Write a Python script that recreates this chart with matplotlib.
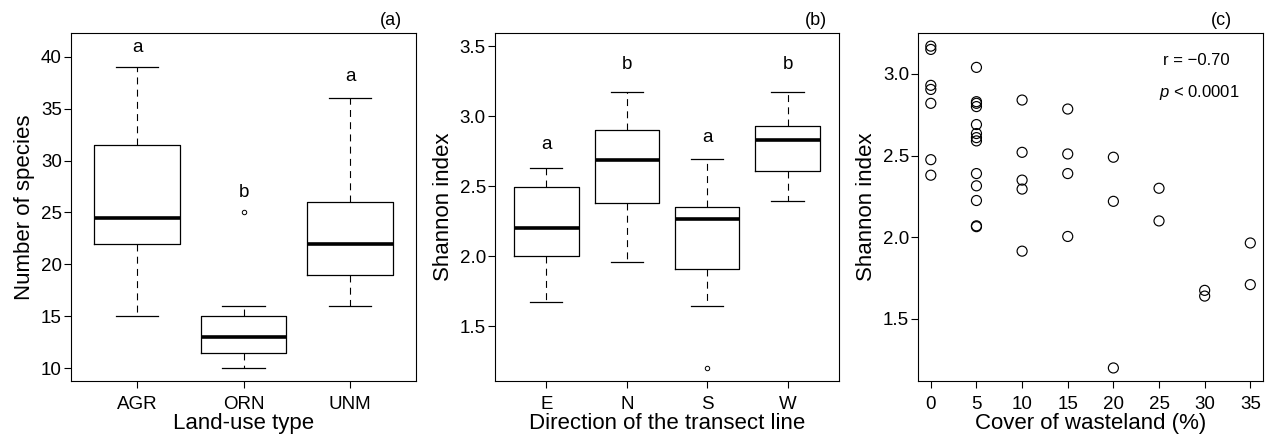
import matplotlib
matplotlib.use("Agg")
import matplotlib.pyplot as plt

plt.rcParams['font.family'] = ['Liberation Sans', 'DejaVu Sans']
plt.rcParams['mathtext.fontset'] = 'custom'
plt.rcParams['mathtext.rm'] = 'Liberation Sans'
plt.rcParams['mathtext.it'] = 'Liberation Sans:italic'
plt.rcParams['lines.scale_dashes'] = False

# (a) number of species by land-use type
landuse = ["AGR", "ORN", "UNM"]
a_whislo = [15, 10, 16]
a_q1 = [22, 11.5, 19]
a_med = [24.5, 13, 22]
a_q3 = [31.5, 15, 26]
a_whishi = [39, 16, 36]
a_fliers = [[], [25], []]
a_letters = ["a", "b", "a"]
a_letter_y = [40.9, 26.9, 38.1]

# (b) Shannon index by transect direction
direction = ["E", "N", "S", "W"]
b_whislo = [1.67, 1.96, 1.64, 2.39]
b_q1 = [2.00, 2.38, 1.91, 2.61]
b_med = [2.20, 2.685, 2.265, 2.83]
b_q3 = [2.49, 2.90, 2.35, 2.93]
b_whishi = [2.63, 3.17, 2.69, 3.17]
b_fliers = [[], [], [1.20], []]
b_letters = ["a", "b", "a", "b"]
b_letter_y = [2.80, 3.37, 2.85, 3.37]

# (c) Shannon index vs cover of wasteland
cover = [0, 0, 0, 0, 0, 0, 0,
         5, 5, 5, 5, 5, 5, 5, 5, 5, 5, 5, 5, 5,
         10, 10, 10, 10, 10,
         15, 15, 15, 15,
         20, 20, 20,
         25, 25,
         30, 30,
         35, 35]
shannon = [3.17, 3.15, 2.93, 2.905, 2.82, 2.475, 2.38,
           3.04, 2.83, 2.82, 2.80, 2.69, 2.635, 2.61, 2.59, 2.39, 2.315, 2.225, 2.07, 2.065,
           2.84, 2.52, 2.35, 2.295, 1.915,
           2.785, 2.51, 2.39, 2.005,
           2.49, 2.22, 1.20,
           2.30, 2.10,
           1.675, 1.64,
           1.965, 1.71]


def make_stats(labels, lo, q1, med, q3, hi, fl):
    out = []
    for i in range(len(labels)):
        out.append(dict(label=labels[i], whislo=lo[i], q1=q1[i], med=med[i],
                        q3=q3[i], whishi=hi[i], fliers=fl[i]))
    return out


def r_box(ax, stats):
    ax.bxp(stats, positions=range(1, len(stats) + 1), widths=0.8, patch_artist=False,
           boxprops=dict(color='black', linewidth=0.9),
           medianprops=dict(color='black', linewidth=2.6, solid_capstyle='butt'),
           whiskerprops=dict(color='black', linewidth=0.8, linestyle=(0, (5, 3.8))),
           capprops=dict(color='black', linewidth=0.9),
           capwidths=0.4,
           flierprops=dict(marker='o', markersize=3.2, markerfacecolor='none',
                           markeredgecolor='black', markeredgewidth=0.7))


def style(ax):
    for s in ax.spines.values():
        s.set_linewidth(0.8)
    ax.tick_params(axis='both', length=5, width=0.8, labelsize=13.5, color='black')
    ax.tick_params(axis='x', pad=5.5)
    ax.tick_params(axis='y', pad=1.5)


fig = plt.figure(figsize=(12.77, 4.41), dpi=100)

ax1 = fig.add_axes([0.0556, 0.136, 0.2702, 0.789])
r_box(ax1, make_stats(landuse, a_whislo, a_q1, a_med, a_q3, a_whishi, a_fliers))
ax1.set_xlim(0.38, 3.62)
ax1.set_ylim(8.75, 42.3)
ax1.set_yticks([10, 15, 20, 25, 30, 35, 40])
for i, t in enumerate(a_letters):
    ax1.text(i + 1, a_letter_y[i], t, ha='center', va='center', fontsize=13.5)
ax1.set_xlabel("Land-use type", fontsize=16, labelpad=0)
ax1.set_ylabel("Number of species", fontsize=16, labelpad=4)
ax1.text(0.96, 1.012, "(a)", transform=ax1.transAxes, ha='right', va='bottom', fontsize=13)
style(ax1)

ax2 = fig.add_axes([0.3876, 0.136, 0.2694, 0.789])
r_box(ax2, make_stats(direction, b_whislo, b_q1, b_med, b_q3, b_whishi, b_fliers))
ax2.set_xlim(0.36, 4.64)
ax2.set_ylim(1.107, 3.593)
ax2.set_yticks([1.5, 2.0, 2.5, 3.0, 3.5])
ax2.set_yticklabels(["1.5", "2.0", "2.5", "3.0", "3.5"])
for i, t in enumerate(b_letters):
    ax2.text(i + 1, b_letter_y[i], t, ha='center', va='center', fontsize=13.5)
ax2.set_xlabel("Direction of the transect line", fontsize=16, labelpad=0)
ax2.set_ylabel("Shannon index", fontsize=16, labelpad=4)
ax2.text(0.965, 1.012, "(b)", transform=ax2.transAxes, ha='right', va='bottom', fontsize=13)
style(ax2)

ax3 = fig.add_axes([0.7189, 0.136, 0.2702, 0.789])
ax3.scatter(cover, shannon, s=52, facecolors='none', edgecolors='black', linewidths=0.85)
ax3.set_xlim(-1.4, 36.4)
ax3.set_ylim(1.12, 3.25)
ax3.set_xticks([0, 5, 10, 15, 20, 25, 30, 35])
ax3.set_yticks([1.5, 2.0, 2.5, 3.0])
ax3.set_yticklabels(["1.5", "2.0", "2.5", "3.0"])
ax3.text(0.806, 0.92, "r = \u22120.70", transform=ax3.transAxes, ha='center', va='center', fontsize=12)
ax3.text(0.815, 0.83, "$p$ < 0.0001", transform=ax3.transAxes, ha='center', va='center', fontsize=12)
ax3.set_xlabel("Cover of wasteland (%)", fontsize=16, labelpad=0)
ax3.set_ylabel("Shannon index", fontsize=16, labelpad=4)
ax3.text(0.91, 1.012, "(c)", transform=ax3.transAxes, ha='right', va='bottom', fontsize=13)
style(ax3)

fig.savefig("out.png", dpi=100)
